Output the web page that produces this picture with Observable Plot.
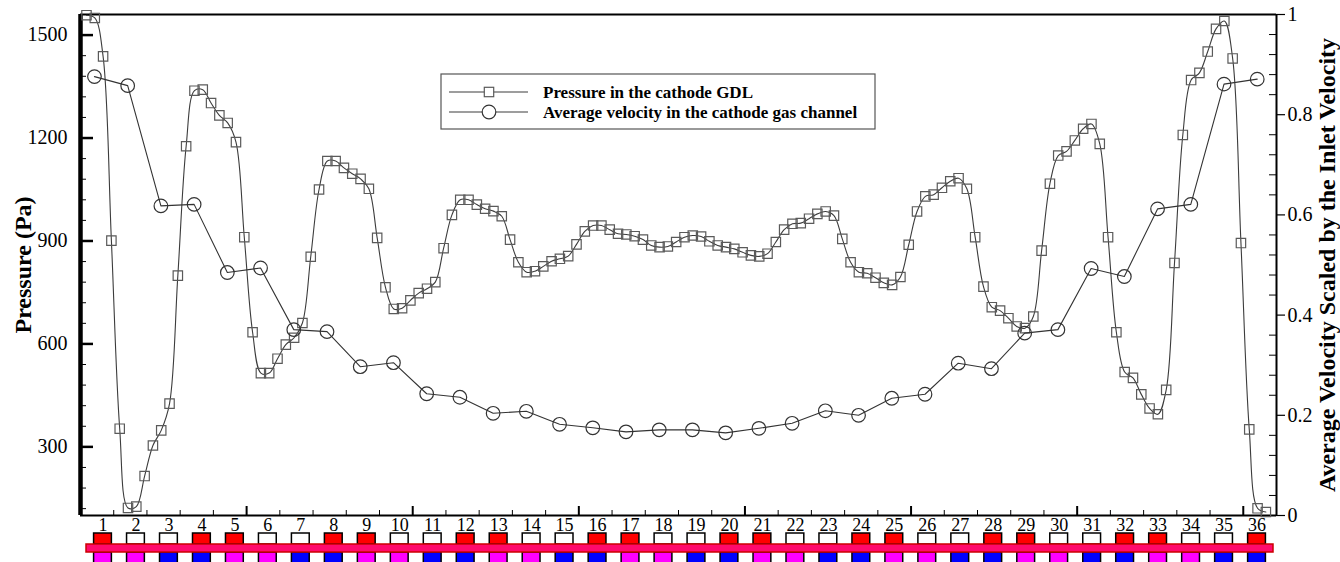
<!DOCTYPE html>
<html>
<head>
<meta charset="utf-8">
<script src="https://cdn.jsdelivr.net/npm/d3@7"></script>
<script src="https://cdn.jsdelivr.net/npm/@observablehq/plot@0.6"></script>
<style>
  body { margin: 0; background: #fff; }
  #chart svg { display: block; }
</style>
</head>
<body>
<div id="chart"></div>
<script>
// Pressure in the cathode GDL, sampled every quarter channel pitch along the cell (Pa)
const gdlPressure = [
  1558, 1550, 1438, 901, 353, 122, 126, 215, 304, 348,
  426, 799, 1176, 1338, 1341, 1302, 1266, 1244, 1188, 911,
  634, 515, 515, 557, 598, 618, 661, 854, 1050, 1133,
  1133, 1113, 1096, 1081, 1052, 909, 765, 702, 704, 727,
  748, 761, 780, 879, 976, 1020, 1020, 1006, 994, 987,
  972, 904, 838, 809, 812, 826, 841, 848, 856, 890,
  928, 945, 945, 933, 921, 919, 914, 904, 887, 882,
  884, 897, 911, 916, 913, 899, 887, 882, 877, 867,
  858, 855, 863, 897, 933, 950, 952, 965, 979, 986,
  974, 906, 838, 809, 806, 793, 778, 772, 795, 889,
  986, 1030, 1035, 1055, 1074, 1083, 1052, 911, 767, 707,
  697, 675, 651, 646, 680, 872, 1067, 1149, 1161, 1193,
  1227, 1241, 1183, 911, 634, 518, 501, 453, 412, 395,
  466, 836, 1209, 1369, 1390, 1452, 1518, 1541, 1432, 894,
  351, 121, 110
];
const gdlStart = 0.18;   // position of the first GDL sample (channel pitches)
const gdlStep = 0.25;    // sample spacing (channel pitches)

// Average velocity in each cathode gas channel, scaled by the inlet velocity
const channelVelocity = [
  0.876, 0.858, 0.618, 0.621, 0.485, 0.494, 0.371, 0.367, 0.297, 0.305,
  0.243, 0.236, 0.204, 0.208, 0.182, 0.175, 0.167, 0.171, 0.171, 0.165,
  0.174, 0.184, 0.209, 0.200, 0.234, 0.242, 0.304, 0.293, 0.364, 0.371,
  0.493, 0.477, 0.612, 0.621, 0.861, 0.871
];
const channelStart = 0.42; // centre of channel 1 on the position axis

// Axis ticks
const pressureTicks = [300, 600, 900, 1200, 1500];
const pressureMinor = d3.range(120, 1561, 60).filter(p => p % 300 !== 0);
const velocityTicks = [0, 0.2, 0.4, 0.6, 0.8, 1];
const velocityMinor = d3.range(0, 25).map(i => i * 0.04).filter((v, i) => i % 5 !== 0);
const positionMajor = [5, 10, 15, 20, 25, 30, 35];
const positionMinor = d3.range(1, 36).filter(x => x % 5 !== 0);

// Channel layout strip: numbering, upper row (R = red, W = white), lower row (M = magenta, B = blue)
const channelNumbers = d3.range(1, 37);
const upperBlocks = ["R","W","W","R","R","W","W","R","R","W","W","R","R","W","W","R","R","W",
                     "W","R","R","W","W","R","R","W","W","R","R","W","W","R","R","W","W","R"];
const lowerBlocks = ["M","M","B","B","M","M","B","B","M","M","B","B","M","M","B","B","M","M",
                     "B","B","M","M","B","B","M","M","B","B","M","M","B","B","M","M","B","B"];
const blockColor = {R: "#ff0000", W: "#ffffff", M: "#ff00ff", B: "#0000ff"};

const P0 = 100, P1 = 1560;
const toP = v => P0 + v * (P1 - P0);   // velocity mapped onto the pressure axis

const pressure = gdlPressure.map((p, i) => ({x: gdlStart + i * gdlStep, p}));
const velocity = channelVelocity.map((v, i) => ({x: channelStart + i, v}));

const font = "'Liberation Serif', 'Times New Roman', Times, serif";
const frameW = 1340 - 80 - 64;
const frameH = 516 - 14 - 1;

const main = Plot.plot({
  width: 1340,
  height: 516,
  marginLeft: 80,
  marginRight: 64,
  marginTop: 14,
  marginBottom: 1,
  x: {domain: [0, 36], axis: null},
  y: {domain: [P0, P1], axis: null},
  style: {fontFamily: font, fontSize: "20px", background: "white", color: "black", overflow: "visible"},
  marks: [
    // bottom ticks (inward)
    Plot.ruleX(positionMinor, {insetTop: frameH - 5, stroke: "black", strokeWidth: 1}),
    Plot.ruleX(positionMajor, {insetTop: frameH - 9, stroke: "black", strokeWidth: 2}),
    // left ticks (inward)
    Plot.ruleY(pressureMinor, {insetRight: frameW - 6, stroke: "black", strokeWidth: 1}),
    Plot.ruleY(pressureTicks, {insetRight: frameW - 13, stroke: "black", strokeWidth: 2.5}),
    // right ticks
    Plot.ruleY(velocityMinor.map(toP), {insetLeft: frameW - 7, stroke: "black", strokeWidth: 1}),
    Plot.ruleY(velocityTicks.map(toP), {x1: 36, x2: 36, insetRight: -9, stroke: "black", strokeWidth: 1.2}),
    // frame
    Plot.ruleY([P1], {stroke: "black", strokeWidth: 2}),
    Plot.ruleY([P0], {stroke: "black", strokeWidth: 2}),
    Plot.ruleX([36], {stroke: "black", strokeWidth: 2}),
    Plot.ruleX([0], {stroke: "black", strokeWidth: 4.5}),
    // tick labels
    Plot.text(pressureTicks, {y: d => d, text: d => String(d), frameAnchor: "left", textAnchor: "end", dx: -13}),
    Plot.text(velocityTicks, {y: v => toP(v), text: v => String(v), frameAnchor: "right", textAnchor: "start", dx: 11}),
    // axis titles
    Plot.text(["Pressure (Pa)"], {text: d => d, frameAnchor: "left", textAnchor: "middle", dx: -57, rotate: -90, fontWeight: "bold", fontSize: 24}),
    Plot.text(["Average Velocity Scaled by the Inlet Velocity"], {text: d => d, frameAnchor: "right", textAnchor: "middle", dx: 51, rotate: -90, fontWeight: "bold", fontSize: 24}),
    // GDL pressure
    Plot.line(pressure, {x: "x", y: "p", curve: "catmull-rom", stroke: "#3c3c3c", strokeWidth: 1.1}),
    Plot.dot(pressure, {x: "x", y: "p", symbol: "square", r: 5.3, stroke: "#5a5a5a", strokeWidth: 1.2, fill: "none"}),
    // channel velocity
    Plot.line(velocity, {x: "x", y: d => toP(d.v), stroke: "#333", strokeWidth: 1.1}),
    Plot.dot(velocity, {x: "x", y: d => toP(d.v), r: 6.8, stroke: "#333", strokeWidth: 1.2, fill: "none"})
  ]
});

// legend box
const lg = d3.select(main).append("g")
  .attr("font-family", font)
  .attr("text-anchor", "start");
lg.append("rect").attr("x", 441).attr("y", 74).attr("width", 434).attr("height", 55)
  .attr("fill", "white").attr("stroke", "#555").attr("stroke-width", 1.2);
const legendRows = [
  {label: "Pressure in the cathode GDL", symbol: "square", y: 92},
  {label: "Average velocity in the cathode gas channel", symbol: "circle", y: 112}
];
for (const row of legendRows) {
  lg.append("line").attr("x1", 449).attr("x2", 528).attr("y1", row.y).attr("y2", row.y)
    .attr("stroke", "#3c3c3c").attr("stroke-width", 1.1);
  if (row.symbol === "square") {
    lg.append("rect").attr("x", 489 - 4.7).attr("y", row.y - 4.7).attr("width", 9.4).attr("height", 9.4)
      .attr("fill", "white").attr("stroke", "#5a5a5a").attr("stroke-width", 1.2);
  } else {
    lg.append("circle").attr("cx", 489).attr("cy", row.y).attr("r", 6.8)
      .attr("fill", "white").attr("stroke", "#333").attr("stroke-width", 1.2);
  }
  lg.append("text").attr("x", 543).attr("y", row.y).attr("dy", "0.35em")
    .attr("font-size", 17).attr("font-weight", "bold").attr("fill", "black")
    .attr("text-anchor", "start").text(row.label);
}

// channel layout strip beneath the axis
const channels = channelNumbers.map((k, i) => ({k, top: upperBlocks[i], bottom: lowerBlocks[i]}));
const strip = Plot.plot({
  width: 1340,
  height: 46,
  marginLeft: 86,
  marginRight: 67,
  marginTop: 0,
  marginBottom: 0,
  x: {domain: [0.5, 36.5], axis: null},
  y: {domain: [0, 46], range: [0, 46], axis: null},
  color: {type: "identity"},
  style: {fontFamily: font, fontSize: "18px", background: "white", color: "black", overflow: "visible"},
  marks: [
    Plot.text(channels, {x: "k", y: 9, text: d => String(d.k)}),
    Plot.rect(channels, {x1: d => d.k - 0.27, x2: d => d.k + 0.27, y1: 17, y2: 28,
      fill: d => blockColor[d.top], stroke: "black", strokeWidth: 1.5}),
    Plot.rect(channels, {x1: d => d.k - 0.27, x2: d => d.k + 0.27, y1: 36, y2: 48,
      fill: d => blockColor[d.bottom], stroke: "black", strokeWidth: 1.5}),
    Plot.rect([0], {x1: 0.5, x2: 36.5, y1: 28, y2: 36, fill: "#ff0a6c", stroke: "#cc0000", strokeWidth: 1.5})
  ]
});

const chart = document.getElementById("chart");
chart.appendChild(main);
chart.appendChild(strip);
</script>
</body>
</html>
